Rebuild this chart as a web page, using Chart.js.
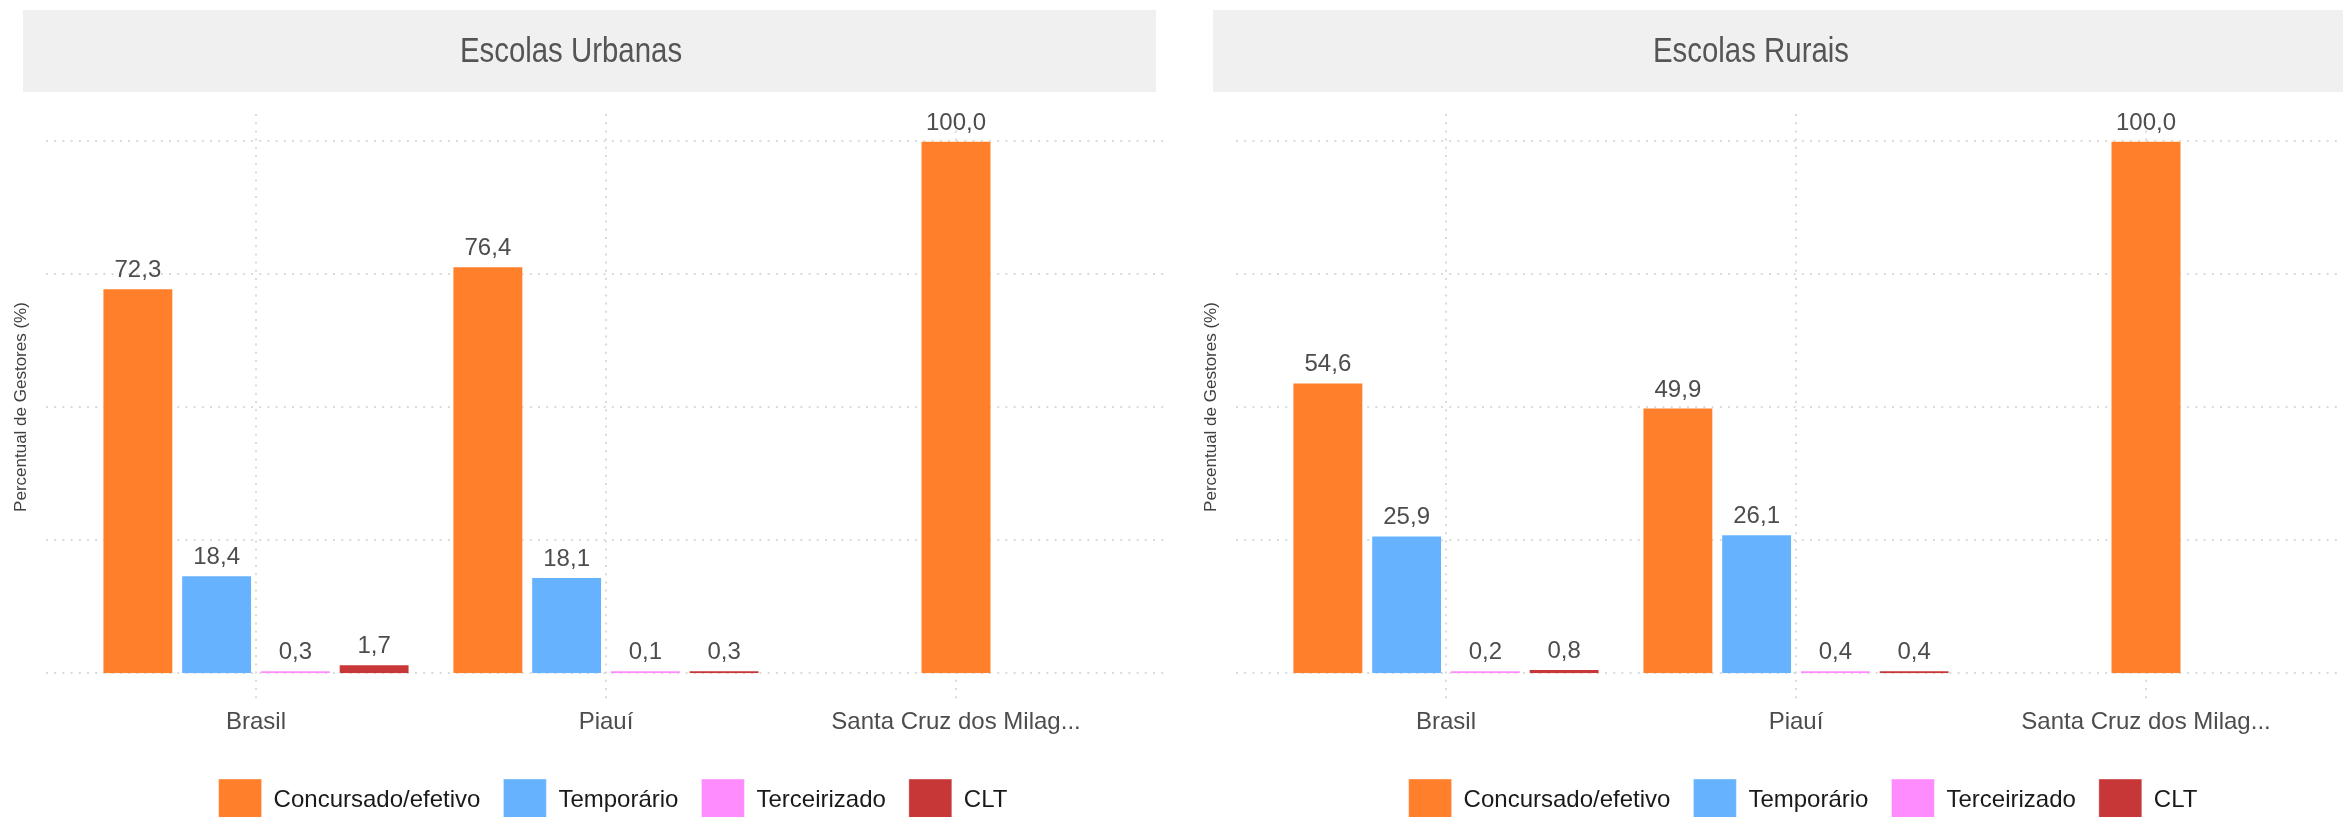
<!DOCTYPE html>
<html>
<head>
<meta charset="utf-8">
<script src="https://cdn.jsdelivr.net/npm/chart.js@4.4.1/dist/chart.umd.min.js"></script>
<style>
  html, body { margin: 0; padding: 0; background: #fff; overflow: hidden; }
  #wrap { position: relative; width: 2343px; height: 817px; overflow: hidden; }
  .panel { position: absolute; top: 0; width: 1190px; height: 831px; }
</style>
</head>
<body>
<div id="wrap">
  <div class="panel" style="left:0"><canvas id="urbanas" width="1190" height="831"></canvas></div>
  <div class="panel" style="left:1190px"><canvas id="rurais" width="1190" height="831"></canvas></div>
</div>
<script>
const categories = ['Brasil', 'Piauí', 'Santa Cruz dos Milag...'];
const seriesNames = ['Concursado/efetivo', 'Temporário', 'Terceirizado', 'CLT'];
const seriesColors = ['#ff7f2a', '#66b2ff', '#ff8cff', '#c83737'];
const yTicks = [0, 25, 50, 75, 100];

// Escolas Urbanas
const urbanConcursado = [72.3, 76.4, 100.0];
const urbanTemporario = [18.4, 18.1, null];
const urbanTerceirizado = [0.3, 0.1, null];
const urbanClt = [1.7, 0.3, null];

// Escolas Rurais
const ruralConcursado = [54.6, 49.9, 100.0];
const ruralTemporario = [25.9, 26.1, null];
const ruralTerceirizado = [0.2, 0.4, null];
const ruralClt = [0.8, 0.4, null];

const FONT = '"Liberation Sans", Arial, Helvetica, sans-serif';

function formatValue(v) {
  return v.toFixed(1).replace('.', ',');
}

// strip title, y title, dotted grid and value labels
const panelDecor = {
  id: 'panelDecor',
  beforeDraw(chart, args, opts) {
    const ctx = chart.ctx;
    const area = chart.chartArea;
    ctx.save();
    ctx.fillStyle = '#f0f0f0';
    ctx.fillRect(23, 10, 1133, 82);
    ctx.fillStyle = '#555555';
    ctx.font = '35px ' + FONT;
    ctx.textAlign = 'center';
    ctx.textBaseline = 'middle';
    ctx.translate(opts.titleX, 52);
    ctx.scale(0.84, 1);
    ctx.fillText(opts.title, 0, 0);
    ctx.restore();

    ctx.save();
    ctx.translate(21, (area.top + area.bottom) / 2);
    ctx.rotate(-Math.PI / 2);
    ctx.font = '17px ' + FONT;
    ctx.fillStyle = '#404040';
    ctx.textAlign = 'center';
    ctx.textBaseline = 'middle';
    ctx.fillText('Percentual de Gestores (%)', 0, 0);
    ctx.restore();
  },
  beforeDatasetsDraw(chart) {
    const ctx = chart.ctx;
    const area = chart.chartArea;
    const xs = chart.scales.x, ys = chart.scales.y;
    const catW = (area.right - area.left) / categories.length;
    ctx.save();
    ctx.strokeStyle = '#dadada';
    ctx.lineWidth = 2;
    ctx.setLineDash([2, 6.2]);
    yTicks.forEach(t => {
      const y = Math.round(ys.getPixelForValue(t));
      ctx.beginPath();
      ctx.moveTo(area.left - catW * 0.1, y);
      ctx.lineTo(area.right + catW * 0.1, y);
      ctx.stroke();
    });
    categories.forEach((c, i) => {
      const x = Math.round(xs.getPixelForValue(i));
      ctx.beginPath();
      ctx.moveTo(x, area.top);
      ctx.lineTo(x, area.bottom);
      ctx.stroke();
    });
    ctx.restore();
  },
  afterDatasetsDraw(chart) {
    const ctx = chart.ctx;
    ctx.save();
    ctx.font = '24px ' + FONT;
    ctx.fillStyle = '#4d4d4d';
    ctx.textAlign = 'center';
    ctx.textBaseline = 'alphabetic';
    chart.data.datasets.forEach((ds, i) => {
      const meta = chart.getDatasetMeta(i);
      meta.data.forEach((bar, j) => {
        const v = ds.data[j];
        if (v === null || v === undefined) return;
        ctx.fillText(formatValue(v), bar.x, bar.y - 11);
      });
    });
    ctx.restore();
  }
};

function makeChart(id, title, titleX, values) {
  const ctx = document.getElementById(id).getContext('2d');
  return new Chart(ctx, {
    type: 'bar',
    data: {
      labels: categories,
      datasets: seriesNames.map((name, i) => ({
        label: name,
        data: values[i],
        backgroundColor: seriesColors[i],
        borderColor: 'rgba(255,255,255,0.4)',
        borderWidth: 1,
        minBarLength: 3
      }))
    },
    options: {
      responsive: false,
      animation: false,
      devicePixelRatio: 1,
      skipNull: true,
      maxBarThickness: 71,
      categoryPercentage: 0.9,
      barPercentage: 0.9,
      layout: { padding: { left: 81, right: 45, top: 114, bottom: 0 } },
      scales: {
        x: {
          type: 'category',
          offset: true,
          grid: { display: false, drawTicks: false },
          border: { display: false },
          ticks: {
            color: '#4d4d4d',
            font: { family: FONT, size: 24 },
            padding: 8,
            maxRotation: 0,
            autoSkip: false
          },
          afterFit(scale) { scale.height = 56; }
        },
        y: {
          position: 'right',
          min: -5,
          max: 105,
          grid: { display: false, drawTicks: false },
          border: { display: false },
          ticks: { display: false },
          afterFit(scale) { scale.width = 14; }
        }
      },
      plugins: {
        legend: {
          position: 'bottom',
          labels: {
            boxWidth: 43,
            boxHeight: 42,
            padding: 23,
            color: '#1a1a1a',
            font: { family: FONT, size: 24 }
          }
        },
        tooltip: { enabled: false },
        panelDecor: { title: title, titleX: titleX }
      }
    },
    plugins: [panelDecor]
  });
}

makeChart('urbanas', 'Escolas Urbanas', 571,
  [urbanConcursado, urbanTemporario, urbanTerceirizado, urbanClt]);
makeChart('rurais', 'Escolas Rurais', 561,
  [ruralConcursado, ruralTemporario, ruralTerceirizado, ruralClt]);
</script>
</body>
</html>
